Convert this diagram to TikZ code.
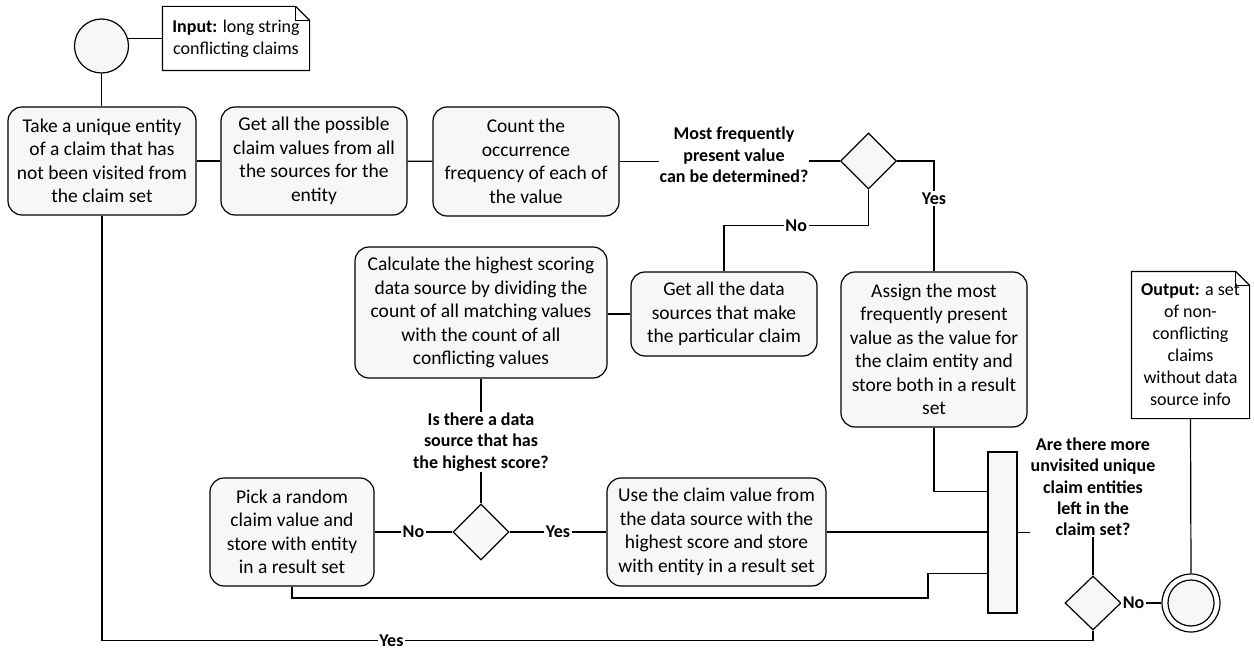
\documentclass[tikz,border=0pt]{standalone}
\usepackage{fontspec}
\setmainfont{Carlito}
\usetikzlibrary{shapes.geometric,calc}
\definecolor{boxfill}{HTML}{F7F7F7}

% outline of a note with a folded top-right corner
\newcommand\notecorner[2]{%
  \draw (#1.north west) -- ([xshift=-#2]#1.north east) -- ([yshift=-#2]#1.north east)
        -- (#1.south east) -- (#1.south west) -- cycle;
  \draw[line width=0.6pt] ([xshift=-#2]#1.north east) |- ([yshift=-#2]#1.north east);
}

\begin{document}
\begin{tikzpicture}[x=1pt,y=-1pt,line width=1.2pt,
  act/.style={draw, rounded corners=14pt, fill=boxfill, align=center, inner sep=0pt,
              font=\fontsize{19.5}{23.5}\selectfont},
  dec/.style={draw, diamond, fill=boxfill, inner sep=0pt, minimum width=56pt, minimum height=56pt},
  quest/.style={align=center, inner sep=0pt, font=\bfseries\fontsize{18}{21.3}\selectfont},
  lbl/.style={fill=white, inner sep=1.5pt, font=\bfseries\fontsize{18}{21}\selectfont},
  notetext/.style={align=center, inner sep=0pt, font=\fontsize{18}{22}\selectfont},
  joinbar/.style={draw, fill=boxfill, inner sep=0pt, minimum width=29pt, minimum height=161pt}]

\useasboundingbox (0,0) rectangle (1254,650);

% start, input note and the first row of activities
\node[circle, draw, fill=boxfill, inner sep=0pt, minimum size=54pt] (start) at (101.5,46) {};
\node[notetext, minimum width=146pt, minimum height=63pt] (innote) at (236,38.5)
  {\textbf{Input:} long string\\conflicting claims};
\notecorner{innote}{14pt}

\node[act, minimum width=188pt, minimum height=108pt] (take) at (102,161)
  {Take a unique entity\\of a claim that has\\not been visited from\\the claim set};
\node[act, minimum width=186pt, minimum height=108pt] (getvals) at (314,161)
  {Get all the possible\\claim values from all\\the sources for the\\entity};
\node[act, minimum width=186pt, minimum height=109pt] (count) at (526,161.5)
  {Count the\\occurrence\\frequency of each of\\the value};
\node[quest] (q1) at (734,155) {Most frequently\\present value\\can be determined?};
\node[dec] (d1) at (868.5,161) {};

% second row
\node[act, minimum width=252pt, minimum height=131pt] (calc) at (481,312.5)
  {Calculate the highest scoring\\data source by dividing the\\count of all matching values\\with the count of all\\conflicting values};
\node[act, minimum width=186pt, minimum height=84pt] (getsrc) at (724,314)
  {Get all the data\\sources that make\\the particular claim};
\node[act, minimum width=186pt, minimum height=155pt] (assign) at (934,349.5)
  {Assign the most\\frequently present\\value as the value for\\the claim entity and\\store both in a result\\set};

% third row
\node[quest] (q2) at (481,442) {Is there a data\\source that has\\the highest score?};
\node[dec] (d3) at (481,532) {};
\node[act, minimum width=164pt, minimum height=108pt] (pick) at (292,532)
  {Pick a random\\claim value and\\store with entity\\in a result set};
\node[act, minimum width=219pt, minimum height=108pt] (use) at (716.5,532)
  {Use the claim value from\\the data source with the\\highest score and store\\with entity in a result set};
\node[joinbar] (join) at (1002.5,532.5) {};
\node[quest] (q3) at (1093,487) {Are there more\\unvisited unique\\claim entities\\left in the\\claim set?};
\node[dec, minimum height=54pt] (d2) at (1093,603) {};

% final node and output note
\node[circle, draw, fill=white, inner sep=0pt, minimum size=58pt] (final) at (1191,603) {};
\node[circle, draw, fill=boxfill, inner sep=0pt, minimum size=46pt] (finalin) at (final) {};
\node[notetext, minimum width=117pt, minimum height=146pt] (outnote) at (1190.5,345)
  {\textbf{Output:} a set\\of non-\\conflicting\\claims\\without data\\source info};
\notecorner{outnote}{14pt}

\coordinate (kink) at (928,598);

% connectors
\draw (start.16) -- (start.16 -| innote.west);
\draw (start.south) -- (start.south |- take.north);
\draw (take) -- (getvals);
\draw (getvals) -- (count);
\draw (count.east) -- (count.east -| q1.west);
\draw (q1.east |- d1.west) -- (d1.west);
\draw (d1.east) -| node[lbl, pos=0.67] {Yes} (assign.north);
\draw (d1.south) -- ++(0,36) -| node[lbl, pos=0.25] {No} (getsrc.north);
\draw (getsrc.west) -- (getsrc.west -| calc.east);
\draw (calc.south) -- (q2.north);
\draw (q2.south) -- (d3.north);
\draw (d3.west) -- node[lbl] {No} (pick.east);
\draw (d3.east) -- node[lbl] {Yes} (use.west);
\draw (use.east) -- (use.east -| join.west);
\draw (assign.south) |- ([yshift=41pt]join.west);
\draw (pick.south) |- (kink) |- ([yshift=-41pt]join.west);
\draw (join.east) -- (join.east -| q3.west);
\draw (q3.south) -- (d2.north);
\draw (d2.east) -- node[lbl, pos=0.3] {No} (final.west);
\draw (outnote.south) -- (final.north);
\draw (d2.south) -- ++(0,10) -| node[lbl, pos=0.354, inner ysep=0pt] {Yes} (take.south);
\end{tikzpicture}
\end{document}
